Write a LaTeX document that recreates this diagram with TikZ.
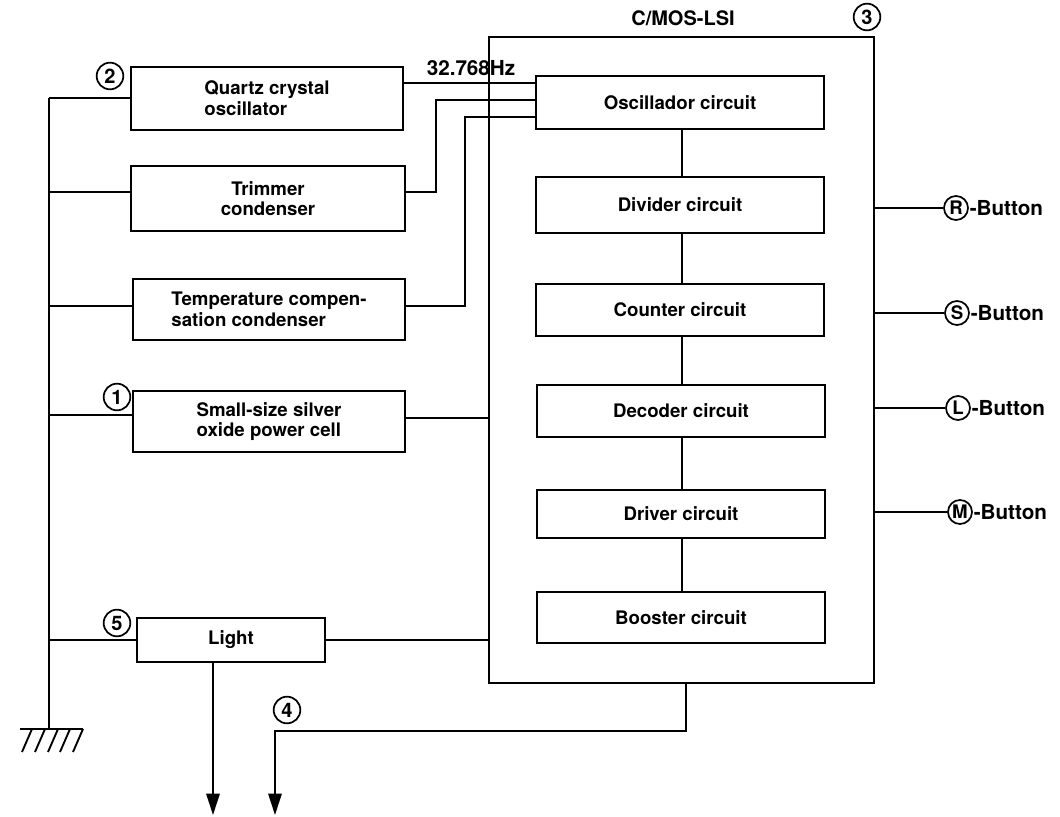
\documentclass[tikz,border=0pt]{standalone}
\usepackage{fontspec}
\setmainfont{TeX Gyre Heros}
\usetikzlibrary{arrows.meta}
\begin{document}
\begin{tikzpicture}[x=0.75pt,y=-0.75pt,line width=1.4pt,
  blk/.style={draw,inner sep=0pt,font=\bfseries\fontsize{14}{15.5}\selectfont},
  num/.style={draw,circle,line width=1.3pt,inner sep=0pt,minimum size=20pt,font=\bfseries\fontsize{15}{15}\selectfont},
  btn/.style={draw,circle,line width=1.3pt,inner sep=0pt,minimum size=18pt,font=\bfseries\fontsize{14}{14}\selectfont},
  lbl/.style={inner sep=0pt,font=\bfseries\fontsize{14}{14}\selectfont},
  arr/.style={-{Triangle[length=16pt,width=10pt]}}]
\useasboundingbox (0,0) rectangle (1060,817);

% frequency label (crossed by LSI edge)
\node[lbl,font=\bfseries\fontsize{15.5}{15.5}\selectfont] (hz) at (471,68) {32.768Hz};

% C/MOS-LSI big box
\node[draw,inner sep=0pt,minimum width=288.75pt,minimum height=484.5pt] (lsi) at (681.5,360) {};
\node[lbl,font=\bfseries\fontsize{15}{15}\selectfont] (lsit) at (683,18) {C/MOS-LSI};
\node[num] (n3) at (867,17) {3};

% external blocks
\node[blk,align=left,minimum width=204pt,minimum height=47.25pt] (quartz) at (267,98.5) {Quartz crystal\\oscillator};
\node[blk,align=center,minimum width=205.5pt,minimum height=48.75pt] (trim) at (268,198.5) {Trimmer\\condenser};
\node[blk,align=left,minimum width=204pt,minimum height=45.75pt] (temp) at (269,309.5) {Temperature compen-\\sation condenser};
\node[blk,align=left,minimum width=204pt,minimum height=45.75pt] (cell) at (269,421.5) {Small-size silver\\oxide power cell};
\node[blk,minimum width=141pt,minimum height=33pt] (light) at (231,640) {Light};

\node[num] (n2) at (110,76) {2};
\node[num] (n1) at (117,397) {1};
\node[num] (n5) at (117,623) {5};
\node[num] (n4) at (287,710) {4};

% internal blocks
\node[blk,minimum width=216pt,minimum height=39.75pt] (osc) at (680,102.5) {Oscillador circuit};
\node[blk,minimum width=216pt,minimum height=42pt] (div) at (680,205) {Divider circuit};
\node[blk,minimum width=216pt,minimum height=39pt] (cnt) at (680,310) {Counter circuit};
\node[blk,minimum width=216pt,minimum height=39pt] (dec) at (681,411) {Decoder circuit};
\node[blk,minimum width=216pt,minimum height=36pt] (drv) at (681,514) {Driver circuit};
\node[blk,minimum width=216pt,minimum height=38.25pt] (bst) at (681,617.5) {Booster circuit};

\coordinate (vx) at (682,0);
\draw (osc.south -| vx) -- (div.north -| vx);
\draw (div.south -| vx) -- (cnt.north -| vx);
\draw (cnt.south -| vx) -- (dec.north -| vx);
\draw (dec.south -| vx) -- (drv.north -| vx);
\draw (drv.south -| vx) -- (bst.north -| vx);

% connections to oscillator
\coordinate (t1) at (436,192);
\coordinate (t2) at (436,100);
\coordinate (p1) at (465,306);
\coordinate (p2) at (465,117);
\draw (quartz.east |- 0,83) -- (osc.west |- 0,83);
\draw (trim.east |- t1) -- (t1) -- (t2) -- (osc.west |- t2);
\draw (temp.east |- p1) -- (p1) -- (p2) -- (osc.west |- p2);
\draw (cell.east |- 0,418) -- (lsi.west |- 0,418);
\draw (light.east) -- (lsi.west |- light.east);

% ground bus
\coordinate (gt) at (49,98);
\coordinate (gb) at (49,729);
\draw (gt) -- (gb);
\draw (gt) -- (quartz.west |- gt);
\draw (49,192) -- (trim.west |- 0,192);
\draw (49,306) -- (temp.west |- 0,306);
\draw (49,415) -- (cell.west |- 0,415);
\draw (49,640) -- (light.west);
\draw (20,729) -- (83,729);
\foreach \a/\b in {32/22,45/35,58/48,70/60,83/73}
  \draw (\a,729) -- (\b,752);

% outputs
\coordinate (la) at (213,815);
\draw[arr] (light.south -| la) -- (la);
\coordinate (d1) at (686,731);
\coordinate (d2) at (275,731);
\coordinate (d3) at (275,815);
\draw[arr] (lsi.south -| d1) -- (d1) -- (d2) -- (d3);

% buttons
\foreach \n/\y/\xx in {R/208/956,S/313/957,L/408/958,M/512/960}{
  \node[btn] (b\n) at (\xx,\y) {\n};
  \node[lbl,anchor=west,font=\bfseries\fontsize{15.5}{15.5}\selectfont] (bt\n) at (b\n.east) {-Button};
  \draw (lsi.east |- b\n) -- (b\n.west);
}
\end{tikzpicture}
\end{document}
